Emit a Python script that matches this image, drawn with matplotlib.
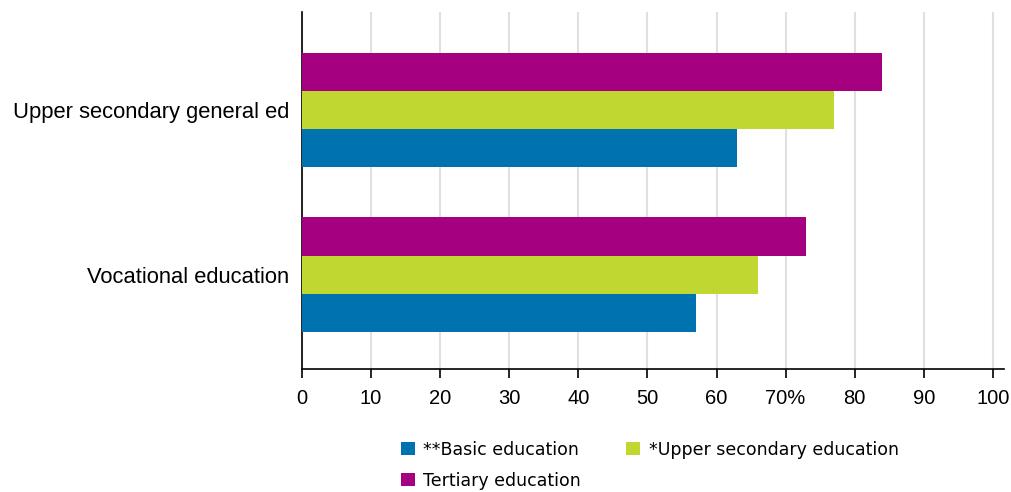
import numpy as np
import matplotlib.pyplot as plt

categories = ["Vocational education", "Upper secondary general ed"]
series_names = ["**Basic education", "*Upper secondary education", "Tertiary education"]
basic = [57, 63]
upper_secondary = [66, 77]
tertiary = [73, 84]
tick_values = [0, 10, 20, 30, 40, 50, 60, 70, 80, 90, 100]
tick_labels = ["0", "10", "20", "30", "40", "50", "60", "70%", "80", "90", "100"]

colors = ["#0072b0", "#bfd730", "#a4007f"]

plt.rcParams["font.family"] = ["Liberation Sans", "DejaVu Sans"]

fig = plt.figure(figsize=(10.11, 4.92), dpi=100)
ax = fig.add_axes([0.2987, 0.250, 0.6943, 0.726])

y = np.arange(len(categories))
h = 0.232
bars = []
for i, (vals, name, col) in enumerate(zip([basic, upper_secondary, tertiary], series_names, colors)):
    bars.append(ax.barh(y + (i - 1) * h, vals, height=h, color=col, label=name, zorder=3))

ax.set_xlim(0, 101.6)
ax.set_ylim(-0.573, 1.598)
ax.set_xticks(tick_values)
ax.set_xticklabels(tick_labels)
ax.set_yticks(y)
ax.set_yticklabels(categories)
ax.tick_params(axis="x", labelsize=14.5, colors="black", length=6.5, width=1.2,
               direction="out", pad=8)
ax.tick_params(axis="y", labelsize=15.8, colors="black", length=0, pad=9)
ax.grid(axis="x", color="#e0e0e0", linewidth=1.5, zorder=0)
for s in ["top", "right"]:
    ax.spines[s].set_visible(False)
for s in ["left", "bottom"]:
    ax.spines[s].set_color("black")
    ax.spines[s].set_linewidth(1.2)

# legend filled row by row: Basic, Upper secondary / Tertiary
order = [0, 2, 1]
fig.legend([bars[i] for i in order], [series_names[i] for i in order],
           loc="upper left", bbox_to_anchor=(392 / 1011, 1 - 432 / 492), ncol=2,
           frameon=False, borderpad=0, prop={"family": "DejaVu Sans", "size": 12.5},
           handlelength=0.8, handleheight=0.8, handletextpad=0.5,
           columnspacing=2.6, labelspacing=0.75)

fig.savefig("out.png", dpi=100)
